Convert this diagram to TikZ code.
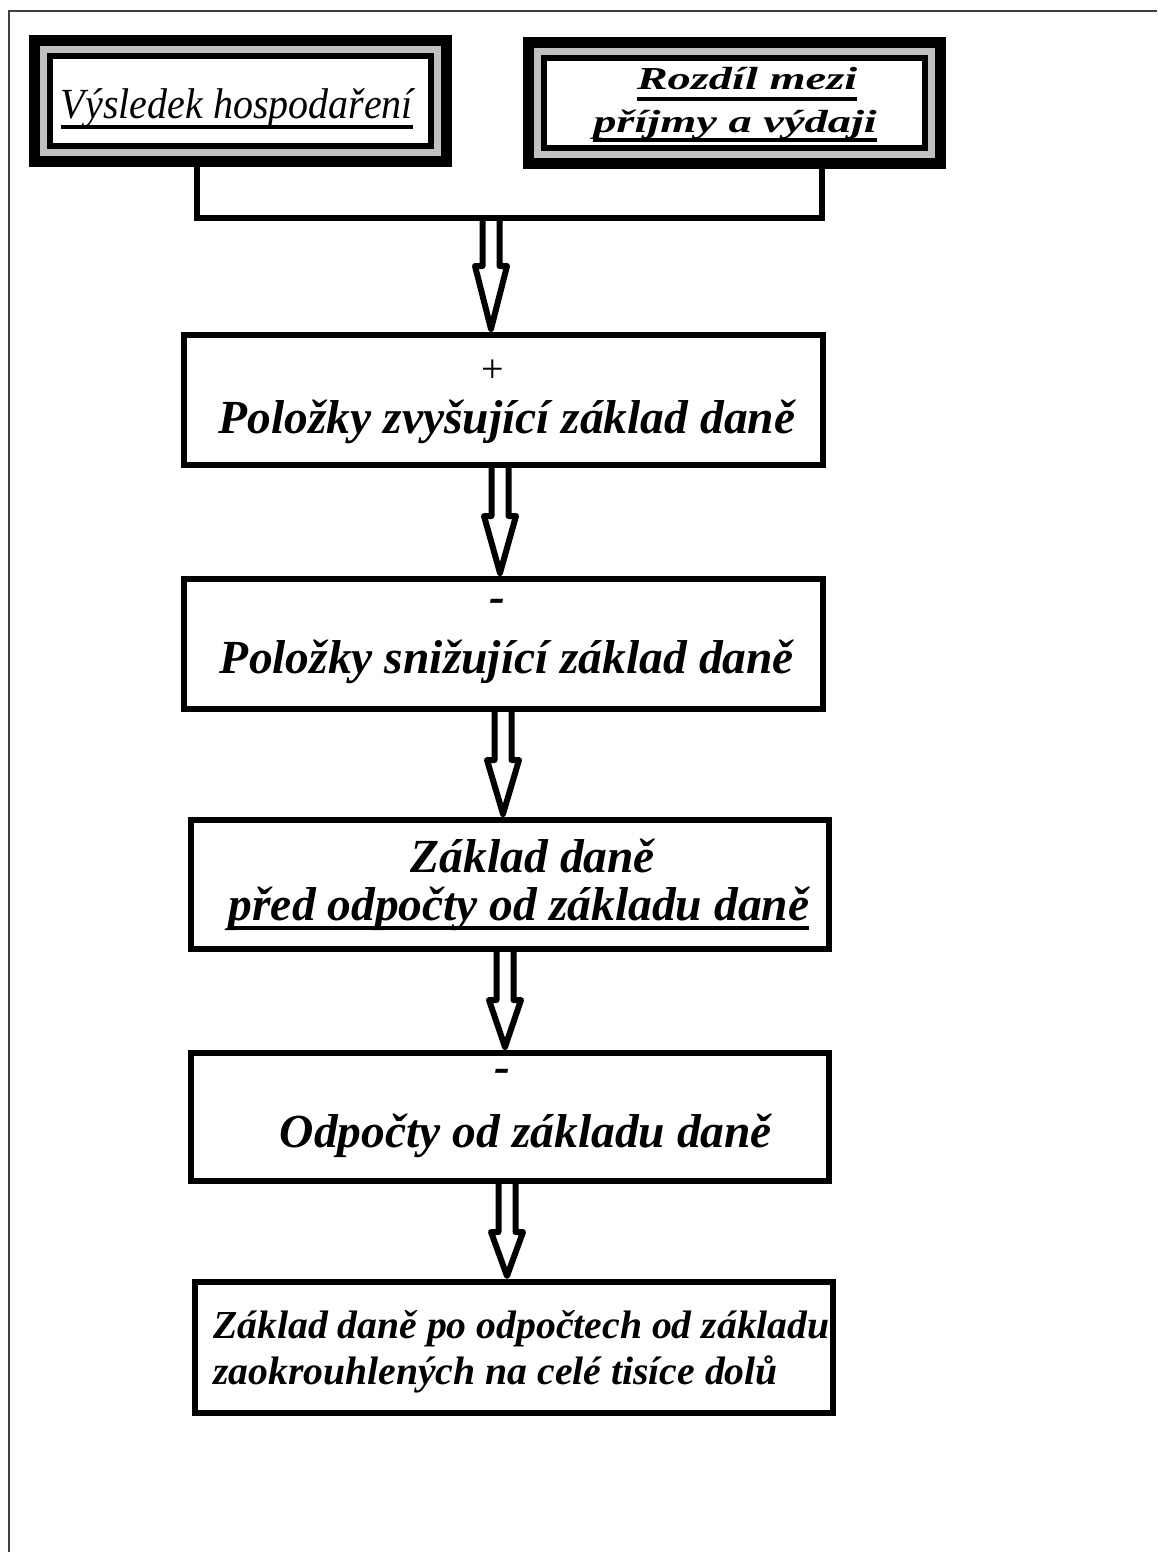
\documentclass[tikz,border=0pt]{standalone}
\usepackage{fontspec}
\setmainfont{Liberation Serif}
\usetikzlibrary{calc}
\definecolor{framegray}{RGB}{192,192,192}
\definecolor{pageline}{RGB}{64,64,64}
\tikzset{
  box/.style={draw, line width=6pt, inner sep=0pt, fill=white},
  conn/.style={line width=6pt},
  txt/.style={inner sep=0pt, anchor=base, font=\fontsize{47.5}{52}\selectfont\bfseries\itshape},
  smalltxt/.style={inner sep=0pt, anchor=base west, font=\fontsize{39.7}{44}\selectfont\bfseries\itshape},
  signtxt/.style={inner sep=0pt, anchor=base, font=\fontsize{40}{44}\selectfont},
  hollow/.style={line width=6pt, line join=round},
  uline/.style={line width=3.5pt},
}
\newcommand\tripleframe[5]{%
  \node[fill=black, inner sep=0pt, minimum width={#4-#2}, minimum height={#5-#3}, anchor=north west] (#1) at (#2,#3) {};
  \fill[framegray] (#2+11,#3+11) rectangle (#4-11,#5-11);
  \fill[black] (#2+18,#3+18) rectangle (#4-18,#5-18);
  \fill[white] (#2+24,#3+24) rectangle (#4-24,#5-24);
}
\newcommand\hollowarrow[2]{%
  \draw[hollow] ($(#1)+(-8.5,0)$) -- ($(#1)+(-8.5,48)$) -- ($(#1)+(-16,48)$) -- ($(#2)+(0,-3)$)
    -- ($(#1)+(16,48)$) -- ($(#1)+(8.5,48)$) -- ($(#1)+(8.5,0)$);
}
\newcommand\uline[2]{%
  \draw[uline] ($(#1.base west)+(0,#2)$) -- ($(#1.base east)+(0,#2)$);
}
\begin{document}
\begin{tikzpicture}[x=1pt,y=-1pt]
\useasboundingbox (0,0) rectangle (1157,1552);
\draw[pageline, line width=2pt] (1157,11) -- (9,11) -- (9,1552);

% top frames
\tripleframe{vh}{29}{35}{452}{167}
\tripleframe{rp}{523}{37}{946}{169}

\node[inner sep=0pt, anchor=base, font=\fontsize{43}{46}\selectfont\itshape] (t1) at (237,119) {\scalebox{0.93}[1]{Výsledek hospodaření}};
\uline{t1}{8}
\node[inner sep=0pt, anchor=base, font=\fontsize{32}{34}\selectfont\bfseries\itshape] (t2a) at (747,90) {\scalebox{1.45}[1]{Rozdíl mezi}};
\uline{t2a}{9}
\node[inner sep=0pt, anchor=base, font=\fontsize{32}{34}\selectfont\bfseries\itshape] (t2b) at (735,132) {\scalebox{1.45}[1]{příjmy a výdaji}};
\uline{t2b}{8}

% connector
\coordinate (jl) at (197,218);
\coordinate (jr) at (822,218);
\draw[conn] (vh.south -| jl) -- (jl) -- (jr) -- (rp.south -| jr);

% boxes
\node[box, minimum width=639pt, minimum height=130pt] (b3) at (503.5,400) {};
\node[box, minimum width=639pt, minimum height=130pt] (b4) at (503.5,644) {};
\node[box, minimum width=638pt, minimum height=129pt] (b5) at (510,884.5) {};
\node[box, minimum width=638pt, minimum height=128pt] (b6) at (510,1117) {};
\node[box, minimum width=638pt, minimum height=131pt] (b7) at (514,1347.5) {};

% arrows
\coordinate (x1) at (491,0);
\coordinate (x2) at (500,0);
\coordinate (x3) at (503,0);
\coordinate (x4) at (505,0);
\coordinate (x5) at (507,0);
\coordinate (a1s) at (jl -| x1);
\coordinate (a1e) at (b3.north -| x1);
\coordinate (a2s) at (b3.south -| x2);
\coordinate (a2e) at (b4.north -| x2);
\coordinate (a3s) at (b4.south -| x3);
\coordinate (a3e) at (b5.north -| x3);
\coordinate (a4s) at (b5.south -| x4);
\coordinate (a4e) at (b6.north -| x4);
\coordinate (a5s) at (b6.south -| x5);
\coordinate (a5e) at (b7.north -| x5);
\hollowarrow{a1s}{a1e}
\hollowarrow{a2s}{a2e}
\hollowarrow{a3s}{a3e}
\hollowarrow{a4s}{a4e}
\hollowarrow{a5s}{a5e}

% texts
\node[signtxt] (t3p) at (493,382) {+};
\node[txt] (t3) at (507,433) {Položky zvyšující základ daně};
\node[txt] (t4m) at (497,612) {-};
\node[txt] (t4) at (507,673) {Položky snižující základ daně};
\node[txt] (t5a) at (533,872) {Základ daně};
\node[txt] (t5b) at (519,920) {před odpočty od základu daně};
\uline{t5b}{8}
\node[txt] (t6m) at (502,1082) {-};
\node[txt] (t6) at (526,1147) {Odpočty od základu daně};
\node[smalltxt] (t7a) at (213,1338) {Základ daně po odpočtech od základu};
\node[smalltxt] (t7b) at (213,1384) {zaokrouhlených na celé tisíce dolů};
\end{tikzpicture}
\end{document}
